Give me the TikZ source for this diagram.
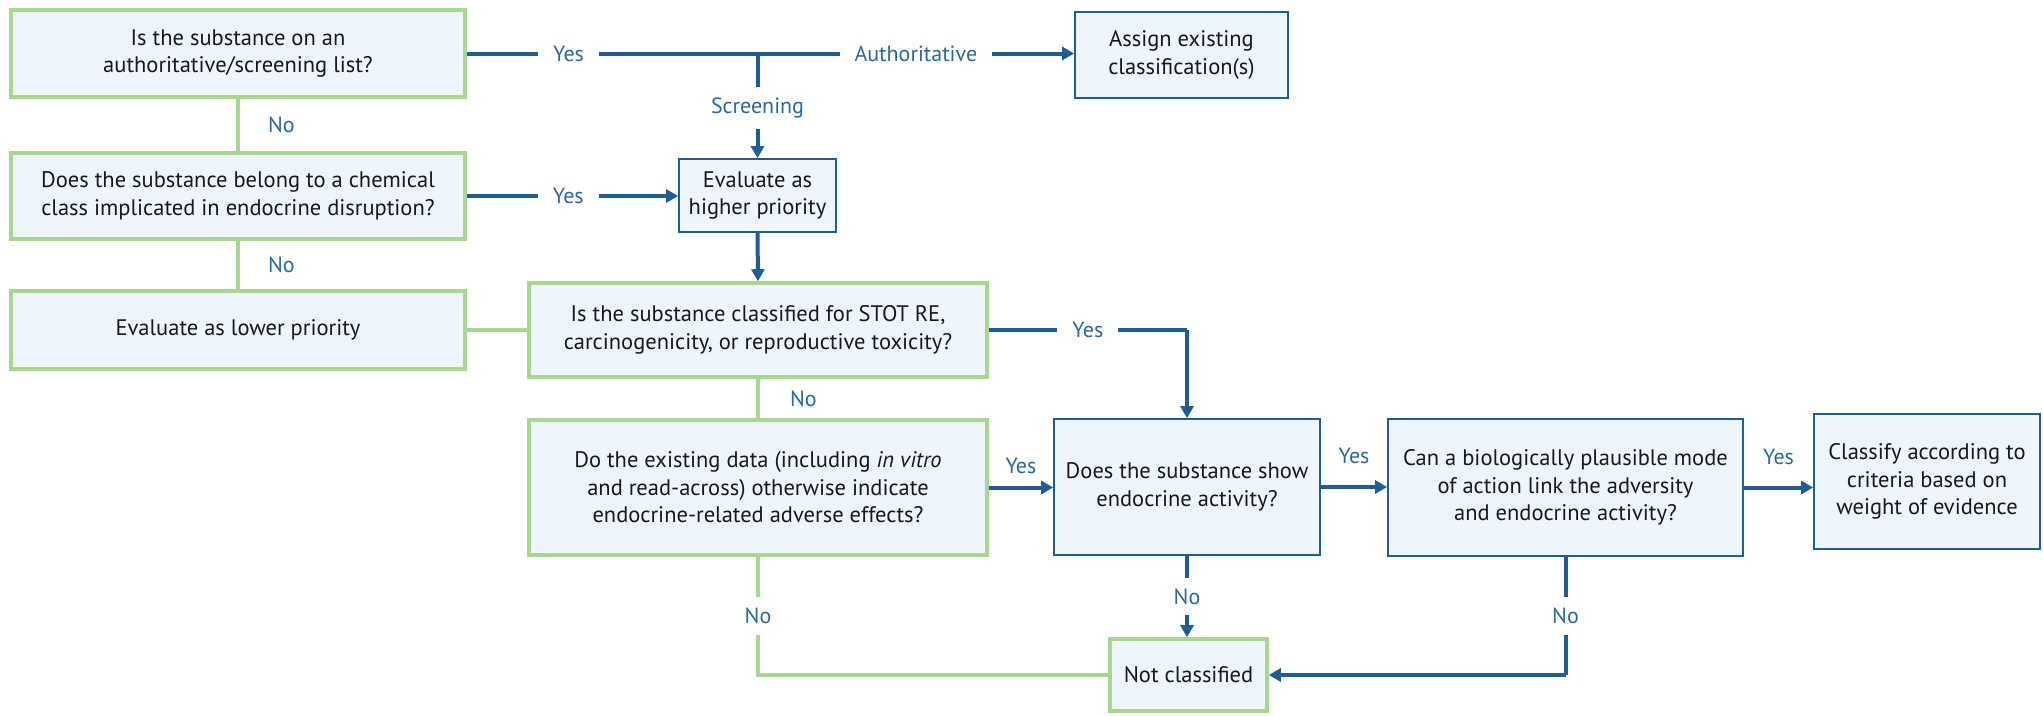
\documentclass[tikz,border=0pt]{standalone}
\usepackage{fontspec}
\setmainfont{PT Sans}
\usetikzlibrary{arrows.meta,calc}
\definecolor{gbord}{HTML}{A8D890}
\definecolor{bline}{HTML}{1C5E95}
\definecolor{bfill}{HTML}{EEF5FC}
\definecolor{ltxt}{HTML}{2A68A0}
\tikzset{
 box/.style={rectangle, fill=bfill, align=center, inner sep=2pt, font=\fontsize{22.5}{27.5}\selectfont, text=black!90},
 gbox/.style={box, draw=gbord, line width=3.6pt},
 bbox/.style={box, draw=bline, line width=1.7pt},
 bl/.style={draw=bline, line width=4pt},
 arr/.style={bl, -{Triangle[length=12pt,width=13pt]}},
 gl/.style={draw=gbord, line width=4pt},
 lblbase/.style={font=\fontsize{22}{26}\selectfont, text=ltxt},
 hlbl/.style={lblbase, fill=white, inner xsep=15pt, inner ysep=2pt},
 vlbl/.style={lblbase, fill=white, inner xsep=2pt, inner ysep=11pt},
 side/.style={lblbase, inner sep=0pt}
}
\begin{document}
\begin{tikzpicture}[x=1pt,y=-1pt]
\useasboundingbox (0,0) rectangle (2043,715);
% boxes
\node[gbox, minimum width=454pt, minimum height=87pt] (q1) at (238,53.5) {Is the substance on an\\authoritative/screening list?};
\node[gbox, minimum width=454pt, minimum height=86pt] (q2) at (238,196) {Does the substance belong to a chemical\\class implicated in endocrine disruption?};
\node[gbox, minimum width=454pt, minimum height=78pt] (low) at (238,330) {Evaluate as lower priority};
\node[bbox, minimum width=213pt, minimum height=86pt] (assign) at (1181.5,55) {Assign existing\\classification(s)};
\node[bbox, minimum width=157pt, minimum height=73pt] (high) at (757.5,195.5) {Evaluate as\\higher priority};
\node[gbox, minimum width=458pt, minimum height=94pt] (stot) at (758,330) {Is the substance classified for STOT RE,\\carcinogenicity, or reproductive toxicity?};
\node[gbox, minimum width=458pt, minimum height=135pt] (data) at (758,487.5) {Do the existing data (including \textit{in vitro}\\and read-across) otherwise indicate\\endocrine-related adverse effects?};
\node[bbox, minimum width=266pt, minimum height=136pt] (endo) at (1187,487) {Does the substance show\\endocrine activity?};
\node[bbox, minimum width=355pt, minimum height=137pt] (mode) at (1565.5,487.5) {Can a biologically plausible mode\\of action link the adversity\\and endocrine activity?};
\node[bbox, minimum width=226pt, minimum height=135pt] (classify) at (1927,481.5) {Classify according to\\criteria based on\\weight of evidence};
\node[gbox, minimum width=157pt, minimum height=72pt] (notc) at (1188.5,675) {Not classified};
% coordinates
\coordinate (jn) at (high.north |- q1.east);
\coordinate (c1) at (stot.east -| endo.north);
\coordinate (c2) at (mode.south |- notc.east);
\coordinate (c3) at (data.south |- notc.west);
% green connectors
\draw[gl] (q1.south) -- node[side, right=28pt]{No} (q2.north);
\draw[gl] (q2.south) -- node[side, right=28pt]{No} (low.north);
\draw[gl] (low.east) -- (stot.west);
\draw[gl] (stot.south) -- node[side, right=30pt]{No} (data.north);
\draw[gl] (data.south) -- node[vlbl]{No} (c3) -- (notc.west);
% blue connectors
\draw[bl] (q1.east) -- node[hlbl, pos=0.35]{Yes} (jn);
\draw[arr] (jn) -- node[hlbl, pos=0.5]{Authoritative} (jn -| assign.west);
\draw[arr] (jn) -- node[vlbl, pos=0.52]{Screening} (high.north);
\draw[arr] (q2.east) -- node[hlbl, pos=0.48]{Yes} (q2.east -| high.west);
\draw[arr] (high.south) -- (stot.north);
\draw[bl] (stot.east) -- node[hlbl]{Yes} (c1);
\draw[arr] (c1) -- (endo.north);
\draw[arr] (data.east) -- node[side, above=12pt]{Yes} (data.east -| endo.west);
\draw[arr] (endo.east) -- node[side, above=21pt]{Yes} (endo.east -| mode.west);
\draw[arr] (mode.east) -- node[side, above=21pt]{Yes} (mode.east -| classify.west);
\draw[arr] (endo.south) -- node[vlbl]{No} (endo.south |- notc.north);
\draw[bl] (mode.south) -- node[vlbl]{No} (c2);
\draw[arr] (c2) -- (notc.east);
\end{tikzpicture}
\end{document}
